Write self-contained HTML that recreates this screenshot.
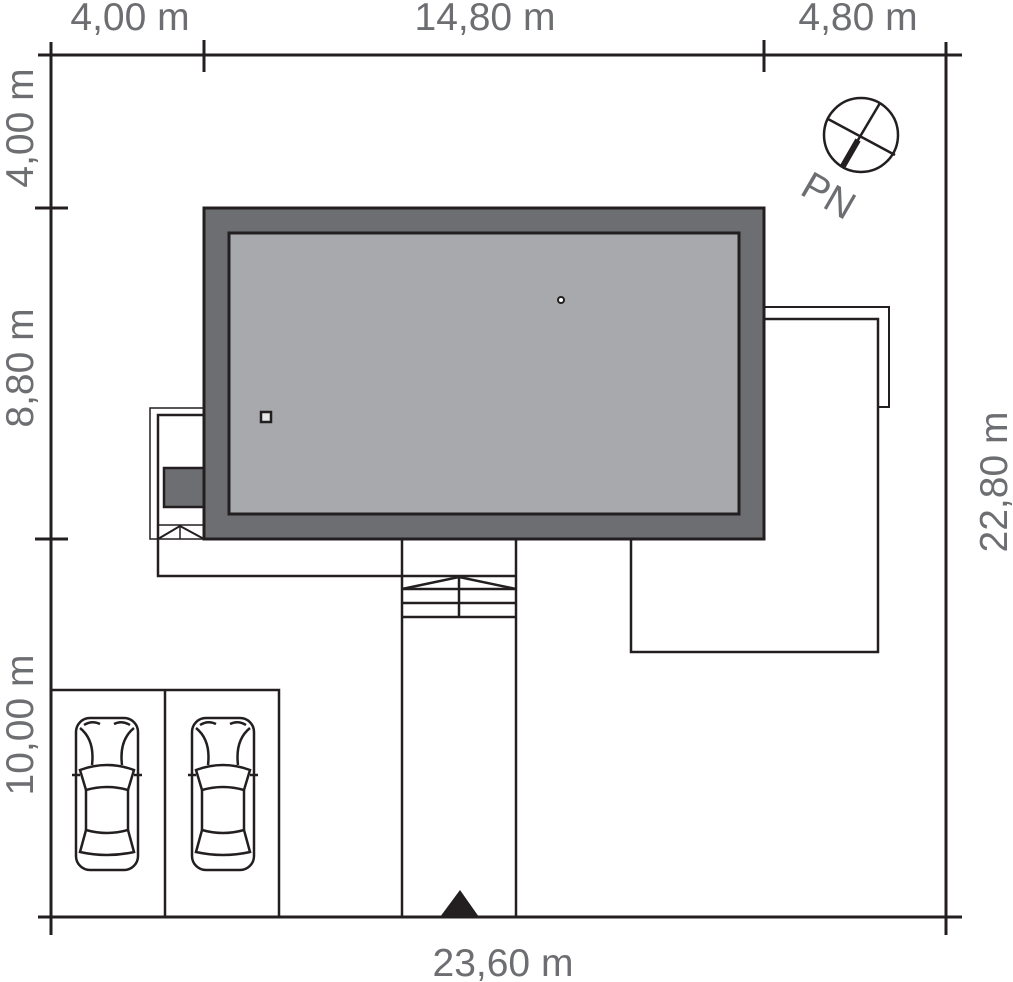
<!DOCTYPE html>
<html><head><meta charset="utf-8"><style>
html,body{margin:0;padding:0;background:#fff}
svg{display:block}
text{font-family:"Liberation Sans",sans-serif;fill:#6d6e71;font-size:39px}
</style></head><body>
<svg width="1013" height="982" viewBox="0 0 1013 982" xmlns="http://www.w3.org/2000/svg">
<g stroke="#231f20" fill="none">
<line x1="38" y1="55" x2="962" y2="55" stroke-width="3"/>
<line x1="38" y1="917" x2="962" y2="917" stroke-width="3"/>
<line x1="51" y1="42" x2="51" y2="935" stroke-width="3"/>
<line x1="946" y1="42" x2="946" y2="935" stroke-width="3"/>
<line x1="204" y1="40" x2="204" y2="72" stroke-width="3"/>
<line x1="764" y1="40" x2="764" y2="72" stroke-width="3"/>
<line x1="35" y1="208" x2="68" y2="208" stroke-width="3"/>
<line x1="35" y1="539" x2="68" y2="539" stroke-width="3"/>
<rect x="150" y="408" width="54" height="131" stroke-width="1.5"/>
<polyline points="204,415 158,415 158,576 402,576" stroke-width="2.5"/>
<rect x="164" y="468" width="40" height="39" fill="#6d6e71" stroke-width="2.5"/>
<line x1="158" y1="525" x2="204" y2="525" stroke-width="1.5"/>
<polyline points="158,539 180,526 204,539" stroke-width="2"/>
<line x1="180" y1="526" x2="180" y2="539" stroke-width="1.5"/>
<rect x="204" y="208" width="560" height="331" fill="#6d6e71" stroke-width="3"/>
<rect x="229" y="233" width="510" height="281" fill="#a7a9ac" stroke-width="3"/>
<rect x="261" y="412" width="10" height="10" fill="#e6e7e8" stroke-width="2.5"/>
<circle cx="561" cy="300" r="3" fill="#fff" stroke-width="2"/>
<line x1="402" y1="540" x2="402" y2="917" stroke-width="2.5"/>
<line x1="516" y1="540" x2="516" y2="917" stroke-width="2.5"/>
<line x1="402" y1="589" x2="516" y2="589" stroke-width="2.5"/>
<line x1="402" y1="603" x2="516" y2="603" stroke-width="2.5"/>
<line x1="402" y1="617" x2="516" y2="617" stroke-width="2.5"/>
<line x1="402" y1="576" x2="516" y2="576" stroke-width="2.5"/>
<line x1="459" y1="577" x2="459" y2="617" stroke-width="2.5"/>
<polyline points="402,589 459,577 516,589" stroke-width="2.5"/>
<polyline points="764,307 889,307 889,407 878,407" stroke-width="2"/>
<polyline points="764,319 878,319 878,652 631,652 631,539" stroke-width="2.5"/>
<polyline points="51,690 279,690 279,917" stroke-width="2.5"/>
<line x1="165" y1="690" x2="165" y2="917" stroke-width="2.5"/>
<circle cx="861" cy="135" r="37" stroke-width="2.5"/>
<line x1="880" y1="103" x2="842" y2="167" stroke-width="2.5"/>
<line x1="828" y1="119" x2="895" y2="155" stroke-width="2.5"/>
<line x1="858" y1="140" x2="843" y2="166" stroke-width="6"/>
</g>
<polygon points="440,917 460,890 479,917" fill="#231f20"/>
<g id="car" fill="none" stroke="#231f20" stroke-width="2.5">
<rect x="76" y="718" width="62" height="152" rx="14"/>
<path d="M80 770 Q107 760 134 770 L128 790 Q107 784 86 790 Z"/>
<path d="M86 830 Q107 836 128 830 L134 852 Q107 858 80 852 Z"/>
<path d="M86 790 L86 830 M128 790 L128 830"/>
<path d="M80 728 Q95 740 92 765 M134 728 Q119 740 122 765"/>
<path d="M84 725 Q92 720 100 724 M114 724 Q122 720 130 725"/>
<line x1="72" y1="775" x2="80" y2="775"/><line x1="134" y1="775" x2="142" y2="775"/>
</g>
<use href="#car" x="116"/>
<text x="130" y="30" text-anchor="middle">4,00 m</text>
<text x="485" y="30" text-anchor="middle">14,80 m</text>
<text x="858" y="30" text-anchor="middle">4,80 m</text>
<text x="503" y="976" text-anchor="middle">23,60 m</text>
<text transform="translate(33,128) rotate(-90)" text-anchor="middle">4,00 m</text>
<text transform="translate(33,368) rotate(-90)" text-anchor="middle">8,80 m</text>
<text transform="translate(33,725) rotate(-90)" text-anchor="middle">10,00 m</text>
<text transform="translate(1007,482) rotate(-90)" text-anchor="middle">22,80 m</text>
<text transform="translate(822,207) rotate(30)" text-anchor="middle">PN</text>
</svg>
</body></html>
